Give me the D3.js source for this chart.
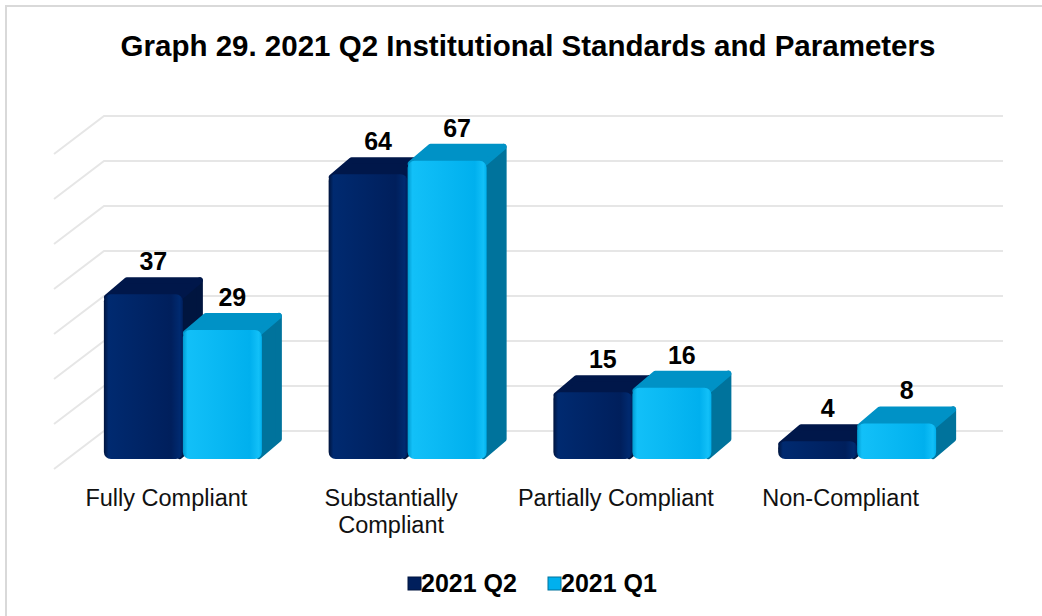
<!DOCTYPE html>
<html>
<head>
<meta charset="utf-8">
<script src="https://d3js.org/d3.v7.min.js"></script>
<style>
  body { margin: 0; background: #fff; }
  text { font-family: "Liberation Sans", Arial, sans-serif; }
</style>
</head>
<body>
<script>
var categories = [["Fully Compliant"], ["Substantially", "Compliant"], ["Partially Compliant"], ["Non-Compliant"]];
var seriesNames = ["2021 Q2", "2021 Q1"];
var q2Values = [37, 64, 15, 4];
var q1Values = [29, 67, 16, 8];
var gridTicks = [0, 10, 20, 30, 40, 50, 60, 70];

var W = 1042, H = 616;
var svg = d3.select("body").append("svg").attr("width", W).attr("height", H);

// colour sets per series: front, top, side
var pal = [
  {front: "#001f5c", frontHi: "#002a70", edge: "#00143d", top: "#00174a", side: "#00153f"},
  {front: "#00b0ee", frontHi: "#12c0f8", edge: "#009ad0", top: "#0092c6", side: "#00739c"}
];

var defs = svg.append("defs");
pal.forEach(function(p, i){
  var g = defs.append("linearGradient").attr("id", "fg" + i).attr("x1", 0).attr("x2", 1).attr("y1", 0).attr("y2", 0);
  g.append("stop").attr("offset", "0%").attr("stop-color", p.edge);
  g.append("stop").attr("offset", "6%").attr("stop-color", p.frontHi);
  g.append("stop").attr("offset", "85%").attr("stop-color", p.front);
  g.append("stop").attr("offset", "96%").attr("stop-color", p.frontHi);
  g.append("stop").attr("offset", "100%").attr("stop-color", p.front);
});

// outer border (only top/left visible in the crop)
svg.append("rect").attr("x", 6).attr("y", 6).attr("width", W + 20).attr("height", H + 20)
  .attr("fill", "none").attr("stroke", "#d9d9d9").attr("stroke-width", 2);

svg.append("text").attr("x", 528).attr("y", 56).attr("text-anchor", "middle")
  .attr("font-size", 29.5).attr("font-weight", "bold").text("Graph 29. 2021 Q2 Institutional Standards and Parameters");

// floor depth (oblique projection)
var floorDx = 50, floorDy = -38;
var x = d3.scaleBand().domain(d3.range(categories.length)).range([54, 953]);
var yBack = d3.scaleLinear().domain([0, 70]).range([431, 116]);
var yFront = d3.scaleLinear().domain([0, 70]).range([459, 147.5]);

// gridlines: wall + left floor edge
var grid = svg.append("g").attr("stroke", "#e6e6e6").attr("stroke-width", 2).attr("fill", "none");
gridTicks.forEach(function(t){
  var yy = yBack(t);
  grid.append("path").attr("d", "M" + (54) + "," + (yy - floorDy) + "L104," + yy + "L1003," + yy);
});

var barW = 79, f0 = 0.27, barDx = 20, barDy = -17;
var bars = svg.append("g");
var labels = svg.append("g");
var series = [q2Values, q1Values];

categories.forEach(function(c, ci){
  var cx = x(ci) + x.bandwidth() / 2 + f0 * floorDx + 3;
  series.forEach(function(vals, si){
    var v = vals[ci];
    var p = pal[si];
    var x0 = cx - barW + si * barW, x1 = x0 + barW;
    var yb = yFront(0), yt = yFront(v);
    var g = bars.append("g").attr("stroke-linejoin", "round").attr("stroke-width", 6);
    // side face
    g.append("path").attr("fill", p.side).attr("stroke", p.side)
      .attr("d", "M" + (x1 - 3) + "," + (yb - 3) + "L" + (x1 - 3) + "," + (yt + 3) + "L" + (x1 + barDx - 3) + "," + (yt + barDy + 3) +
        "L" + (x1 + barDx - 3) + "," + (yb + barDy - 3) + "Z");
    // top face
    g.append("path").attr("fill", p.top).attr("stroke", p.top)
      .attr("d", "M" + (x0 + 3) + "," + (yt + 3) + "L" + (x0 + barDx + 3) + "," + (yt + barDy + 3) + "L" + (x1 + barDx - 3) + "," + (yt + barDy + 3) +
        "L" + (x1 - 3) + "," + (yt + 3) + "Z");
    // front face
    g.append("rect").attr("x", x0).attr("y", yt).attr("width", barW).attr("height", yb - yt)
      .attr("rx", 7).attr("fill", "url(#fg" + si + ")").attr("stroke", "none");
    labels.append("text").attr("x", (x0 + x1) / 2 + barDx / 2).attr("y", yt + barDy - 7)
      .attr("text-anchor", "middle").attr("font-size", 25).attr("font-weight", "bold").text(v);
  });
  var t = svg.append("text").attr("text-anchor", "middle").attr("font-size", 23.5).attr("fill", "#111");
  c.forEach(function(line, li){
    t.append("tspan").attr("x", x(ci) + x.bandwidth() / 2).attr("y", 506 + li * 27).text(line);
  });
});

// legend
var legend = svg.append("g").attr("transform", "translate(408,577)");
var lx = [0, 140];
seriesNames.forEach(function(n, i){
  var g = legend.append("g").attr("transform", "translate(" + lx[i] + ",0)");
  g.append("rect").attr("width", 13).attr("height", 13).attr("fill", pal[i].front).attr("stroke", pal[i].side).attr("stroke-width", 1);
  g.append("text").attr("x", 13).attr("y", 15).attr("font-size", 25).attr("font-weight", "bold").text(n);
});
</script>
</body>
</html>
